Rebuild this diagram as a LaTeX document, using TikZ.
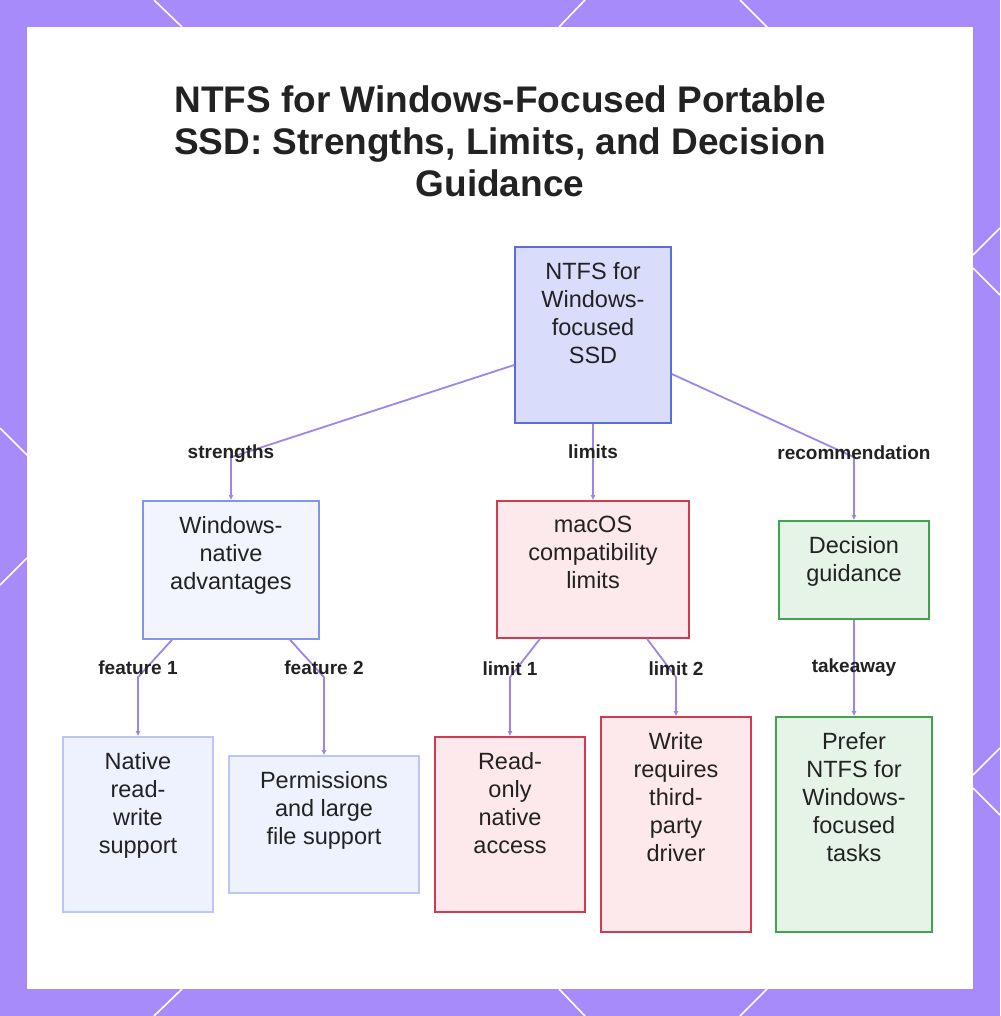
\documentclass[tikz,border=0pt]{standalone}
\usepackage{fontspec}
\setmainfont{Liberation Sans}
\usetikzlibrary{arrows.meta,positioning}
\definecolor{frame}{HTML}{A78BFA}
\definecolor{ink}{HTML}{222222}
\definecolor{linkc}{HTML}{9F85EA}
\definecolor{rootfill}{HTML}{D9DCFB}
\definecolor{rootline}{HTML}{5B6DD8}
\definecolor{bluefill}{HTML}{F3F5FE}
\definecolor{blueline}{HTML}{8196E8}
\definecolor{leaffill}{HTML}{EEF2FE}
\definecolor{leafline}{HTML}{BCC7F4}
\definecolor{redfill}{HTML}{FDE8EC}
\definecolor{redline}{HTML}{D23A4E}
\definecolor{greenfill}{HTML}{E6F4E8}
\definecolor{greenline}{HTML}{3FA34F}
% text block at the top of a card: height, width, lines
\newcommand{\cardtext}[3]{\parbox[c][#1pt][t]{#2pt}{\centering\vspace*{15pt}#3\par}}

\begin{document}
\begin{tikzpicture}[x=1pt, y=-1pt,
  card/.style={draw, line width=1.6pt, inner sep=0pt, text=ink,
               font=\fontsize{23.5}{28}\selectfont},
  rootcard/.style={card, draw=rootline, fill=rootfill},
  bluecard/.style={card, draw=blueline, fill=bluefill},
  leafcard/.style={card, draw=leafline, fill=leaffill},
  redcard/.style={card, draw=redline, fill=redfill},
  greencard/.style={card, draw=greenline, fill=greenfill},
  link/.style={draw=linkc, line width=1.8pt, -{Latex[length=5pt,width=5pt]}},
  lbl/.style={text=ink, inner sep=1pt, font=\fontsize{19}{22}\selectfont\bfseries},
  deco/.style={draw=white, line width=1.6pt}
]
\useasboundingbox (0,0) rectangle (1000,1016);
% frame and panel
\fill[frame] (0,0) rectangle (1000,1016);
\fill[white] (27,27) rectangle (973,989);
\draw[deco] (154,0) -- (182,27);
\draw[deco] (585,0) -- (559,27);
\draw[deco] (740,0) -- (767,27);
\draw[deco] (182,989) -- (154,1016);
\draw[deco] (559,989) -- (585,1016);
\draw[deco] (767,989) -- (740,1016);
\draw[deco] (0,428) -- (27,455);
\draw[deco] (27,558) -- (0,585);
\draw[deco] (1000,228) -- (973,255);
\draw[deco] (973,268) -- (1000,295);
\draw[deco] (1000,748) -- (973,775);
\draw[deco] (973,788) -- (1000,815);

\node[text=ink, align=center, font=\fontsize{37}{42}\selectfont\bfseries] (title) at (500,141)
  {NTFS for Windows-Focused Portable\\SSD: Strengths, Limits, and Decision\\Guidance};

% cards
\node[rootcard] (root) at (593,335) {\cardtext{176}{156}{NTFS for\\Windows-\\focused\\SSD}};
\node[bluecard] (native) at (231,570) {\cardtext{138}{176}{Windows-\\native\\advantages}};
\node[redcard] (macos) at (593,569.5) {\cardtext{137}{192}{macOS\\compatibility\\limits}};
\node[greencard] (guide) at (854,570) {\cardtext{98}{150}{Decision\\guidance}};
\node[leafcard] (rw) at (138,824.5) {\cardtext{175}{150}{Native\\read-\\write\\support}};
\node[leafcard] (perm) at (324,824.5) {\cardtext{137}{190}{Permissions\\and large\\file support}};
\node[redcard] (ro) at (510,824.5) {\cardtext{175}{150}{Read-\\only\\native\\access}};
\node[redcard] (driver) at (676,824.5) {\cardtext{215}{150}{Write\\requires\\third-\\party\\driver}};
\node[greencard] (prefer) at (854,824.5) {\cardtext{215}{156}{Prefer\\NTFS for\\Windows-\\focused\\tasks}};

% connectors
\draw[link] ([yshift=-30]root.west) -- ([yshift=43]native.north)
  node[lbl, yshift=4] (lstr) {strengths} -- (native.north);
\draw[link] (root.south) -- (macos.north) node[lbl, pos=.37] (llim) {limits};
\draw[link] ([yshift=-39]root.east) -- ([yshift=63]guide.north)
  node[lbl, yshift=4] (lrec) {recommendation} -- (guide.north);
\draw[link] ([xshift=-59]native.south) -- ([yshift=59]rw.north)
  node[lbl, yshift=9] (lf1) {feature 1} -- (rw.north);
\draw[link] ([xshift=59]native.south) -- ([yshift=78]perm.north)
  node[lbl, yshift=9] (lf2) {feature 2} -- (perm.north);
\draw[link] ([xshift=-53]macos.south) -- ([yshift=59]ro.north)
  node[lbl, yshift=9] (ll1) {limit 1} -- (ro.north);
\draw[link] ([xshift=54]macos.south) -- ([yshift=39]driver.north)
  node[lbl, yshift=9] (ll2) {limit 2} -- (driver.north);
\draw[link] (guide.south) -- (prefer.north) node[lbl, pos=.5] (ltake) {takeaway};
\end{tikzpicture}
\end{document}
